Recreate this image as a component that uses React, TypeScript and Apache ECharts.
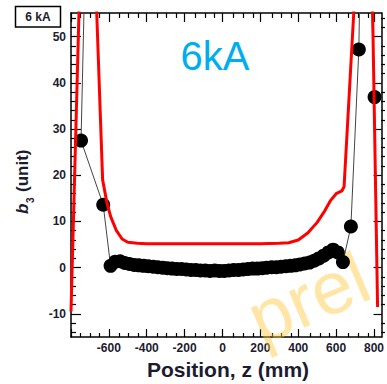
import React, { useEffect, useRef } from "react";
import * as echarts from "echarts";

// Axis tick labels
const zTickLabels = [-600, -400, -200, 0, 200, 400, 600, 800];
const b3TickLabels = [-10, 0, 10, 20, 30, 40, 50];
const zMajorTicks = [-800, -600, -400, -200, 0, 200, 400, 600, 800];
const b3MajorTicks = [-10, 0, 10, 20, 30, 40, 50];

// Measured b3 along the magnet axis (black markers)
const measuredZ = [
  -701, -747, -630, -591, -566, -541, -516, -491, -466, -441, -416, -391, -366,
  -341, -316, -291, -266, -241, -216, -191, -166, -141, -116, -91, -66, -41, -16,
  9, 34, 59, 84, 109, 134, 159, 184, 209, 234, 259, 284, 309, 334, 359, 384, 409,
  434, 459, 484, 509, 534, 559, 584, 609, 636, 678, 720, 745, 803,
];
const measuredB3 = [
  110, 27.5, 13.6, 0.4, 1.3, 1.4, 1.0, 0.8, 0.6, 0.5, 0.4, 0.3, 0.2,
  0.1, 0.0, -0.1, -0.2, -0.3, -0.3, -0.4, -0.5, -0.5, -0.6, -0.6, -0.7, -0.6, -0.7,
  -0.7, -0.6, -0.5, -0.5, -0.4, -0.3, -0.2, -0.2, -0.1, 0.0, 0.1, 0.1, 0.2, 0.3, 0.4,
  0.5, 0.7, 0.9, 1.1, 1.5, 2.0, 2.6, 3.3, 3.9, 3.3, 1.2, 8.9, 47.2, 110, 36.9,
];

// Tolerance curve (red line)
const limitZ = [
  -800, -758, -740, -682, -664, -633, -610, -590, -560, -530, -500, -450, -400,
  -300, -200, -100, 0, 100, 200, 300, 350, 400, 450, 500, 540, 570, 600, 630, 642,
  693, 712, 775, 793, 819,
];
const limitB3 = [
  -9.5, 55, 90, 90, 55, 19, 14, 11, 8, 6.2, 5.5, 5.3, 5.2,
  5.2, 5.2, 5.2, 5.2, 5.2, 5.2, 5.3, 5.4, 6.0, 7.5, 9.8, 12.3, 14.5, 16.0, 16.6, 17.5,
  55, 90, 90, 55, -8.5,
];

const Z_MIN = -800;
const Z_MAX = 840;
const B3_MIN = -15;
const B3_MAX = 55.1;

const minorZ: number[] = [];
for (let v = -750; v <= 800; v += 50) if (v % 200 !== 0) minorZ.push(v);
const minorB3: number[] = [];
for (let v = -14; v <= 54; v += 2) if (v % 10 !== 0) minorB3.push(v);

const FONT = "'Liberation Sans', Arial, Helvetica, sans-serif";
const LABEL_COLOR = "#1c1c30";

function App() {
  const ref = useRef<HTMLDivElement>(null);

  useEffect(() => {
    if (!ref.current) return;
    const chart = echarts.init(ref.current, null, { renderer: "svg" });

    const grid = { left: 71, top: 13, width: 314, height: 324 };
    const frameLine = { show: true, onZero: false, lineStyle: { color: "#000", width: 1.5 } };
    const noLine = { show: false, onZero: false };
    const tickStyle = { color: "#000", width: 1.2 };

    const xAxisBase = (gridIndex: number, position: string) => ({
      type: "value",
      gridIndex,
      position,
      min: Z_MIN,
      max: Z_MAX,
      splitLine: { show: false },
    });
    const yAxisBase = (gridIndex: number, position: string) => ({
      type: "value",
      gridIndex,
      position,
      min: B3_MIN,
      max: B3_MAX,
      splitLine: { show: false },
    });

    const data = measuredZ.map((z, i) => [z, measuredB3[i]]);
    const limit = limitZ.map((z, i) => [z, limitB3[i]]);

    chart.setOption({
      animation: false,
      backgroundColor: "#fff",
      grid: [grid, grid],
      xAxis: [
        {
          ...xAxisBase(0, "bottom"),
          axisLine: frameLine,
          axisTick: { inside: true, length: 8, customValues: zMajorTicks, lineStyle: tickStyle },
          axisLabel: {
            customValues: zTickLabels,
            margin: 5,
            color: LABEL_COLOR,
            fontFamily: FONT,
            fontWeight: "bold",
            fontSize: 12,
          },
        },
        {
          ...xAxisBase(0, "top"),
          axisLine: frameLine,
          axisTick: { inside: true, length: 9, customValues: zMajorTicks, lineStyle: tickStyle },
          axisLabel: { show: false },
        },
        {
          ...xAxisBase(1, "bottom"),
          axisLine: noLine,
          axisTick: { inside: true, length: 4, customValues: minorZ, lineStyle: tickStyle },
          axisLabel: { show: false },
        },
        {
          ...xAxisBase(1, "top"),
          axisLine: noLine,
          axisTick: { inside: true, length: 5, customValues: minorZ, lineStyle: tickStyle },
          axisLabel: { show: false },
        },
      ],
      yAxis: [
        {
          ...yAxisBase(0, "left"),
          axisLine: frameLine,
          axisTick: { inside: true, length: 10, customValues: b3MajorTicks, lineStyle: tickStyle },
          axisLabel: {
            customValues: b3TickLabels,
            margin: 5,
            color: LABEL_COLOR,
            fontFamily: FONT,
            fontWeight: "bold",
            fontSize: 12,
          },
        },
        {
          ...yAxisBase(0, "right"),
          axisLine: frameLine,
          axisTick: { inside: true, length: 8, customValues: b3MajorTicks, lineStyle: tickStyle },
          axisLabel: { show: false },
        },
        {
          ...yAxisBase(1, "left"),
          axisLine: noLine,
          axisTick: { inside: true, length: 5, customValues: minorB3, lineStyle: tickStyle },
          axisLabel: { show: false },
        },
        {
          ...yAxisBase(1, "right"),
          axisLine: noLine,
          axisTick: { inside: true, length: 4, customValues: minorB3, lineStyle: tickStyle },
          axisLabel: { show: false },
        },
      ],
      series: [
        {
          type: "line",
          xAxisIndex: 0,
          yAxisIndex: 0,
          data,
          clip: true,
          symbol: "circle",
          symbolSize: 14,
          showAllSymbol: true,
          itemStyle: { color: "#000" },
          lineStyle: { color: "#444", width: 1 },
          z: 3,
        },
        {
          type: "line",
          xAxisIndex: 0,
          yAxisIndex: 0,
          data: limit,
          clip: true,
          showSymbol: false,
          lineStyle: { color: "#ff0000", width: 3 },
          z: 4,
        },
      ],
      graphic: [
        {
          type: "text",
          x: 266,
          y: 356,
          rotation: 0.4,
          z: 1,
          style: {
            text: "prel",
            fontFamily: FONT,
            fontSize: 74,
            fill: "rgba(255, 200, 60, 0.45)",
            align: "left",
            verticalAlign: "bottom",
          },
        },
        {
          type: "text",
          x: 215,
          y: 56,
          z: 10,
          style: {
            text: "6kA",
            fontFamily: FONT,
            fontSize: 40,
            fill: "#00aeef",
            align: "center",
            verticalAlign: "middle",
          },
        },
        {
          type: "rect",
          shape: { x: 15.5, y: 6.5, width: 45, height: 20.5 },
          z: 10,
          style: { fill: "#fff", stroke: "#000", lineWidth: 1.5 },
        },
        {
          type: "text",
          x: 38,
          y: 17,
          z: 11,
          style: {
            text: "6 kA",
            fontFamily: FONT,
            fontSize: 12,
            fontWeight: "bold",
            fill: LABEL_COLOR,
            align: "center",
            verticalAlign: "middle",
          },
        },
        {
          type: "text",
          x: 228,
          y: 369,
          z: 10,
          style: {
            text: "Position, z (mm)",
            fontFamily: FONT,
            fontSize: 21,
            fontWeight: "bold",
            fill: LABEL_COLOR,
            align: "center",
            verticalAlign: "middle",
          },
        },
        {
          type: "group",
          x: 31,
          y: 214,
          rotation: Math.PI / 2,
          z: 10,
          children: [
            {
              type: "text",
              x: 0,
              y: 0,
              style: {
                text: "b",
                fontFamily: FONT,
                fontSize: 17,
                fontStyle: "italic",
                fontWeight: "bold",
                fill: LABEL_COLOR,
                align: "left",
                verticalAlign: "bottom",
              },
            },
            {
              type: "text",
              x: 11,
              y: 4,
              style: {
                text: "3",
                fontFamily: FONT,
                fontSize: 10,
                fontWeight: "bold",
                fill: LABEL_COLOR,
                align: "left",
                verticalAlign: "bottom",
              },
            },
            {
              type: "text",
              x: 22,
              y: 0,
              style: {
                text: "(unit)",
                fontFamily: FONT,
                fontSize: 17,
                fontWeight: "bold",
                fill: LABEL_COLOR,
                align: "left",
                verticalAlign: "bottom",
              },
            },
          ],
        },
      ],
    });

    return () => chart.dispose();
  }, []);

  return (
    <div
      ref={ref}
      style={{ position: "fixed", left: 0, top: 0, width: 387, height: 384, background: "#fff" }}
    />
  );
}

export default App;
